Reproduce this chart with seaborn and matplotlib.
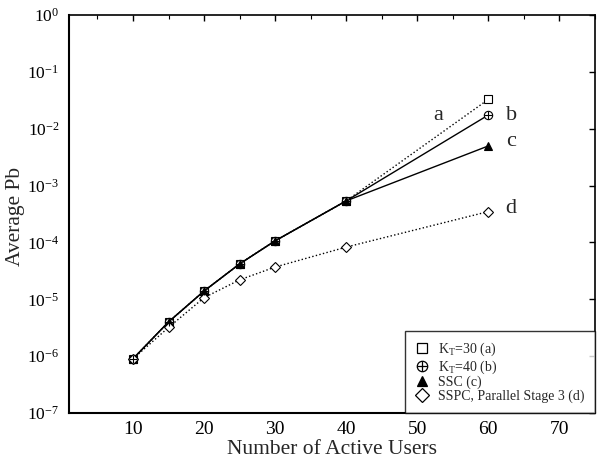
import math
import matplotlib
matplotlib.use("Agg")
import matplotlib.pyplot as plt
import seaborn as sns
import pandas as pd
from matplotlib.lines import Line2D
from matplotlib.legend_handler import HandlerTuple
from matplotlib.ticker import LogLocator, MultipleLocator, FixedLocator, FuncFormatter

users = [10, 15, 20, 25, 30, 40, 60]
pb_kt30 = [9e-7, 4.0e-6, 1.4e-5, 4.2e-5, 1.07e-4, 5.4e-4, 3.3e-2]
pb_kt40 = [9e-7, 4.0e-6, 1.4e-5, 4.2e-5, 1.07e-4, 5.4e-4, 1.75e-2]
pb_ssc = [9e-7, 4.0e-6, 1.4e-5, 4.2e-5, 1.07e-4, 5.4e-4, 5.0e-3]
pb_sspc = [9e-7, 3.2e-6, 1.07e-5, 2.2e-5, 3.7e-5, 8.3e-5, 3.5e-4]

series_names = ["K$_T$=30 (a)", "K$_T$=40 (b)", "SSC (c)", "SSPC, Parallel Stage 3 (d)"]
series_tags = ["a", "b", "c", "d"]

sns.set_theme(style="white")
plt.rcParams["font.family"] = ["Liberation Serif", "DejaVu Serif"]
plt.rcParams["mathtext.fontset"] = "custom"
plt.rcParams["mathtext.rm"] = "Liberation Serif"
plt.rcParams["mathtext.it"] = "Liberation Serif"

fig = plt.figure(figsize=(5.97, 4.59), dpi=100)
ax = fig.add_axes([0.1156, 0.1002, 0.881, 0.8668])

# (marker, linestyle, facecolor, size); the "b" series uses a circle with a plus
styles = [
    dict(marker="s", ls=":", mfc="white", ms=6),
    dict(marker="o", ls="-", mfc="white", ms=6),
    dict(marker="^", ls="-", mfc="black", ms=6),
    dict(marker="D", ls=":", mfc="white", ms=5.5),
]

all_vals = [pb_kt30, pb_kt40, pb_ssc, pb_sspc]
for name, vals, st in zip(series_names, all_vals, styles):
    df = pd.DataFrame({"users": users, "pb": vals})
    sns.lineplot(data=df, x="users", y="pb", ax=ax, color="black", lw=1.0,
                 linestyle=st["ls"], marker=st["marker"], markersize=st["ms"],
                 markerfacecolor=st["mfc"], markeredgecolor="black",
                 markeredgewidth=0.8, legend=False)
    if name == series_names[1]:
        sns.scatterplot(data=df, x="users", y="pb", ax=ax, marker="+", s=30,
                        color="black", linewidth=0.8, legend=False, zorder=5)

ax.set_yscale("log")
ax.set_xlim(1, 75)
ax.set_ylim(1e-7, 1)
ax.xaxis.set_major_locator(FixedLocator([10, 20, 30, 40, 50, 60, 70]))
ax.xaxis.set_minor_locator(MultipleLocator(5))
ax.yaxis.set_major_locator(LogLocator(base=10, numticks=10))
ax.yaxis.set_major_formatter(FuncFormatter(
    lambda v, pos: r"$10^{%d}$" % round(math.log10(v))))
ax.tick_params(which="both", direction="in", top=True, right=True, colors="black")
ax.tick_params(axis="x", labelsize=14)
ax.tick_params(axis="y", labelsize=12.5)
ax.tick_params(which="major", length=4, width=1)
ax.tick_params(which="minor", length=3, width=0.8)
ax.tick_params(axis="y", which="minor", length=0)
ax.tick_params(axis="x", which="major", pad=6)
ax.tick_params(axis="y", which="major", pad=7)

for side in ["left", "bottom"]:
    ax.spines[side].set_linewidth(1.5)
for side in ["top", "right"]:
    ax.spines[side].set_linewidth(1.2)
for sp in ax.spines.values():
    sp.set_color("black")

ax.set_xlabel("Number of Active Users", fontsize=15.5)
ax.set_ylabel("Average Pb", fontsize=15.5)
ax.xaxis.set_label_coords(0.5, -0.068)
ax.yaxis.set_label_coords(-0.083, 0.495)

# curve tags next to the end points
tag_pos = [(52.9, 1.75e-2), (63.2, 1.75e-2), (63.2, 5.9e-3), (63.2, 4.0e-4)]
for tag, (tx, ty) in zip(series_tags, tag_pos):
    ax.text(tx, ty, tag, fontsize=16, ha="center", va="center")

def legend_marker(st, size):
    return Line2D([], [], ls="none", color="black", marker=st["marker"],
                  markersize=size, markerfacecolor=st["mfc"],
                  markeredgecolor="black", markeredgewidth=0.9)

plus = Line2D([], [], ls="none", color="black", marker="+", markersize=7,
              markeredgewidth=0.9)
handles = [legend_marker(styles[0], 7.5),
           (legend_marker(styles[1], 7.5), plus),
           legend_marker(styles[2], 7.5),
           legend_marker(styles[3], 7)]
leg = ax.legend(handles, series_names, loc="lower right", fontsize=10,
                frameon=True, fancybox=False, borderpad=0.75, handletextpad=0.7,
                labelspacing=0.0, handlelength=0.9, borderaxespad=0,
                handler_map={tuple: HandlerTuple(ndivide=1)})
leg.get_frame().set_edgecolor("black")
leg.get_frame().set_linewidth(1.0)

fig.savefig("out.png", dpi=100)
